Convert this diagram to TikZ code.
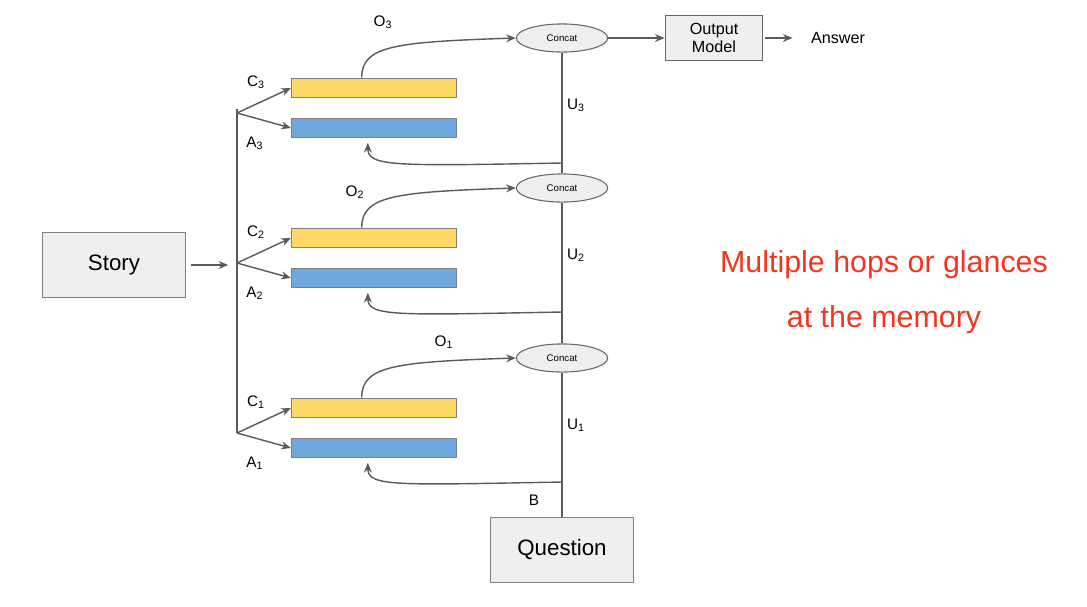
\documentclass[tikz,border=0pt]{standalone}
\usepackage{fontspec}
\setmainfont{Liberation Sans}
\usetikzlibrary{arrows.meta,calc,positioning,shapes.geometric}
\definecolor{boxgray}{HTML}{EFEFEF}
\definecolor{linegray}{HTML}{5A5A5A}
\definecolor{memyellow}{HTML}{FFD966}
\definecolor{memblue}{HTML}{6FA8DC}
\definecolor{hopred}{HTML}{F0361E}

\begin{document}
\begin{tikzpicture}[x=0.02cm,y=-0.02cm,>={Stealth[length=5.5pt,width=4.5pt]},
  line/.style={draw=linegray,line width=0.8pt},
  arr/.style={line,->},
  bigbox/.style={draw=black!50,fill=boxgray,line width=0.7pt,minimum width=81pt,minimum height=37pt,font=\fontsize{12.7}{15}\selectfont},
  smallbox/.style={draw=black!60,fill=boxgray,line width=0.7pt,minimum width=55.5pt,minimum height=26pt,align=center,font=\fontsize{9.2}{10.5}\selectfont},
  concat/.style={ellipse,draw=black!60,fill=boxgray,line width=0.6pt,minimum width=52pt,minimum height=16pt,inner sep=0pt,font=\fontsize{5.5}{6}\selectfont},
  memc/.style={draw=black!50,fill=memyellow,line width=0.6pt,minimum width=94pt,minimum height=11.3pt,inner sep=0pt},
  mema/.style={draw=black!50,fill=memblue,line width=0.6pt,minimum width=94pt,minimum height=11.3pt,inner sep=0pt},
  lbl/.style={font=\fontsize{8.7}{10}\selectfont,inner sep=1pt}]
  \useasboundingbox (0,0) rectangle (1087,606);
  % inputs and output
  \node[bigbox] (story) at (114,265) {Story};
  \node[bigbox] (question) at (562,550) {Question};
  \node[smallbox] (outmodel) at (714,38) {Output\\Model};
  \node[font=\fontsize{9.2}{10.5}\selectfont] (answer) at (838,38) {Answer};
  % the three hops
  \foreach \i/\yc/\ym/\ox/\oy/\yf in {3/38/88/383/22/163, 2/188/238/355/192/312, 1/358/408/444/342/482} {
    \node[concat] (concat\i) at (562,\yc) {Concat};
    \node[memc] (c\i) at (374,\ym) {};
    \node[mema] (a\i) at (374,\ym+40) {};
    \coordinate (br\i) at (237,\ym+25);
    \coordinate (fb\i) at (562,\yf);
    \draw[arr] (br\i) -- (c\i.west);
    \draw[arr] (br\i) -- (a\i.west);
    \node[lbl] at (256,\ym-6) {C\textsubscript{\i}};
    \node[lbl] at (255,\ym+55) {A\textsubscript{\i}};
    \node[lbl] at (\ox,\oy) {O\textsubscript{\i}};
    \node[lbl] at (576,\yc+67) {U\textsubscript{\i}};
    \draw[arr] ([xshift=-7pt]c\i.north) .. controls +(0,-32) and +(-120,4) .. (concat\i.west);
    \draw[arr] (fb\i) .. controls +(-165,3) and +(0,24) .. ([xshift=-3.5pt,yshift=-2.5pt]a\i.south);
  }
  % story feeds every hop
  \draw[line] ([yshift=2pt]br3) -- (br1);
  \draw[arr,shorten <=3pt,shorten >=5pt] (story.east) -- (story.east -| br2);
  % controller state going up
  \draw[line] (question) -- (concat1);
  \draw[line] (concat1) -- (concat2);
  \draw[line] (concat2) -- (concat3);
  \node[lbl] at (534,500) {B};
  \draw[arr] (concat3.east) -- (outmodel.west);
  \draw[arr,shorten <=1pt,shorten >=7pt] (outmodel.east) -- (answer.west);
  % note
  \node[text=hopred,align=center,font=\fontsize{17.3}{31}\selectfont] (note) at (884,292) {Multiple hops or glances\\at the memory};
\end{tikzpicture}
\end{document}
